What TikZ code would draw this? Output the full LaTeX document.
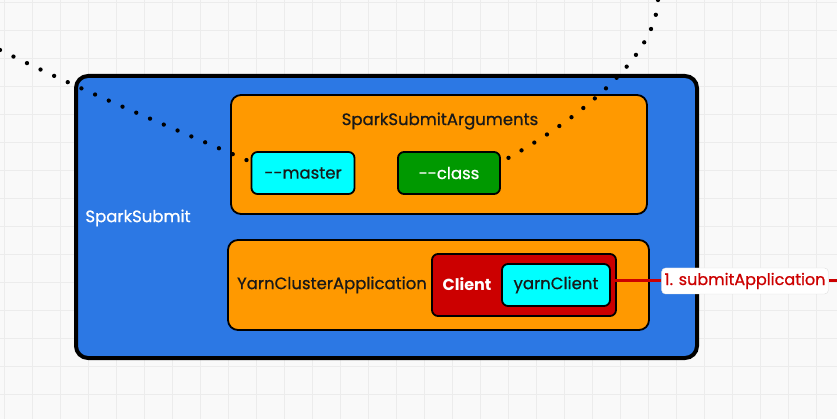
\documentclass[tikz,border=0pt]{standalone}
\usepackage{fontspec}
\setmainfont{Poppins}[BoldFont=Poppins,BoldFeatures={FakeBold=0.8}]
\newfontfamily\heavyfont{Poppins}[BoldFont=Poppins Bold]
\usetikzlibrary{positioning}
\definecolor{sheet}{RGB}{249,249,249}
\definecolor{gridgray}{RGB}{236,236,236}
\definecolor{submitblue}{RGB}{44,120,228}
\definecolor{argorange}{RGB}{255,153,0}
\definecolor{argcyan}{RGB}{0,255,255}
\definecolor{arggreen}{RGB}{0,153,0}
\definecolor{clientred}{RGB}{204,0,0}
\tikzset{
  grid line/.style={gridgray,line width=0.8pt},
  outer box/.style={
    draw=black,fill=submitblue,rounded corners=12pt,line width=4pt
  },
  inner box/.style={
    draw=black,fill=argorange,rounded corners=10pt,line width=1.8pt
  },
  arg box/.style={
    draw=black,rounded corners=6pt,line width=1.8pt,inner sep=0pt
  },
  box label/.style={font=\fontsize{16.5}{19}\selectfont\bfseries,text=black!90},
  dot link/.style={
    black,line width=4.3pt,line cap=round,dash pattern=on 0pt off 15pt
  },
  call line/.style={clientred,line width=3pt},
  call label/.style={
    draw=black!12,fill=white,rounded corners=4pt,text=clientred,
    font=\fontsize{16}{19}\selectfont\bfseries,minimum height=26pt,inner xsep=3pt
  }
}

\begin{document}
\begin{tikzpicture}[x=1pt,y=-1pt]
  \useasboundingbox (0,0) rectangle (837,419);
  \fill[sheet] (0,0) rectangle (837,419);
  \foreach \gx in {4,32,...,836}
    \draw[grid line] (\gx,0) -- (\gx,419);
  \foreach \gy in {2,30,...,418}
    \draw[grid line] (0,\gy) -- (837,\gy);

  \node[outer box,minimum width=621pt,minimum height=282pt] (submit) at (386.5,217) {};
  \node[box label,text=white] (submitlbl) at (138,218) {SparkSubmit};

  \node[inner box,minimum width=416pt,minimum height=119pt] (args) at (439,154.5) {};
  \node[box label] (argslbl) at (440,121) {SparkSubmitArguments};
  \node[arg box,fill=argcyan,minimum width=103pt,minimum height=42pt,box label] (master) at (303,173) {-{}-master};
  \node[arg box,fill=arggreen,minimum width=102pt,minimum height=42pt,box label,text=white] (class) at (449,173) {-{}-class};

  \node[inner box,minimum width=421pt,minimum height=90pt] (yarnapp) at (438.5,285) {};
  \node[box label] (yarnapplbl) at (332,285) {YarnClusterApplication};
  \node[arg box,fill=clientred,minimum width=184pt,minimum height=62pt] (client) at (524,285) {};
  \node[box label,text=white,font=\fontsize{16}{19}\selectfont\heavyfont\bfseries] (clientlbl) at (467,284) {Client};
  \node[arg box,fill=argcyan,minimum width=108pt,minimum height=42pt,box label] (yc) at (556,285) {yarnClient};

  % submitApplication call leaving the box
  \node[call label] (submitcall) at (745,281) {1. submitApplication};
  \coordinate (callend) at (840,281);
  \draw[call line] (yc.east |- submitcall) -- (submitcall.west);
  \draw[call line] (submitcall.east) -- (callend);

  % dotted links coming in from outside
  \coordinate (masterfrom) at (0,50);
  \coordinate (classfrom) at (658,0);
  \draw[dot link] (masterfrom) .. controls (85,92) and (170,127) .. (master.168);
  \draw[dot link] (classfrom) .. controls (656,60) and (570,125) .. (class.12);
\end{tikzpicture}
\end{document}
